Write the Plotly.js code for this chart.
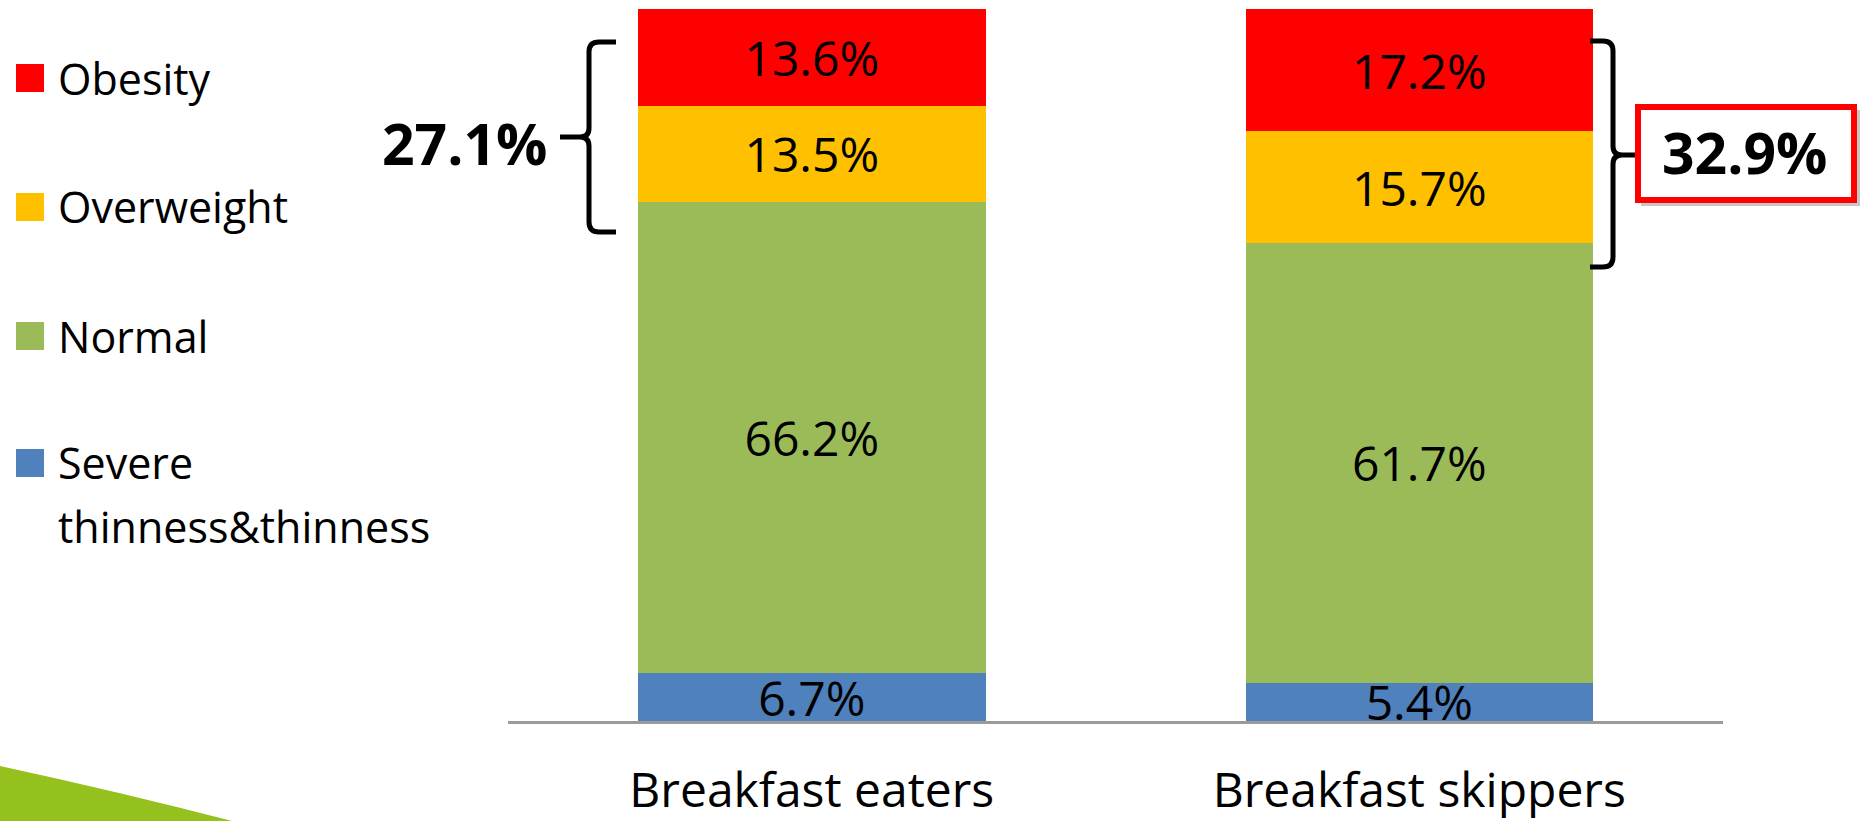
<!DOCTYPE html>
<html>
<head>
<meta charset="utf-8">
<script src="https://cdn.plot.ly/plotly-3.0.1.min.js"></script>
<style>
  html, body { margin: 0; padding: 0; background: #ffffff; overflow: hidden; }
  #chart { width: 1861px; height: 821px; }
</style>
</head>
<body>
<div id="chart"></div>
<script>
// BMI categories of breakfast eaters vs. skippers (percent of each group)
const groups = ['Breakfast eaters', 'Breakfast skippers'];
const seriesNames = ['Severe thinness&thinness', 'Normal', 'Overweight', 'Obesity'];
const thinness = [6.7, 5.4];
const normal = [66.2, 61.7];
const overweight = [13.5, 15.7];
const obesity = [13.6, 17.2];
const seriesColors = ['#4F81BD', '#9BBB59', '#FFC000', '#FF0000'];

const W = 1861, H = 821;
const M = { l: 508, r: 138, t: 9, b: 100 };
const PW = W - M.l - M.r, PH = H - M.t - M.b;
const FONT = 'Open Sans, Lato, Noto Sans, sans-serif';

// pixel position -> paper coordinates
const fx = px => (px - M.l) / PW;
const fy = py => (H - M.b - py) / PH;
const pathOf = segs => segs.map(s => s[0] + ' ' + s.slice(1).map(p => fx(p[0]).toFixed(5) + ',' + fy(p[1]).toFixed(5)).join(' ')).join(' ');

const seriesValues = [thinness, normal, overweight, obesity];
const traces = seriesValues.map((vals, i) => ({
  type: 'bar',
  name: seriesNames[i],
  x: groups,
  y: vals,
  width: 0.572,
  marker: { color: seriesColors[i], line: { width: 0 } },
  texttemplate: '%{y:.1f}%',
  textposition: 'inside',
  insidetextanchor: 'middle',
  constraintext: 'none',
  textangle: 0,
  insidetextfont: { family: FONT, size: 48, color: '#000000' },
  hoverinfo: 'skip',
  showlegend: false
}));

const shapes = [];
const annotations = [];

// legend, top entry first
const legendCenters = [78, 207, 336, 463];
const legendOrder = [3, 2, 1, 0];
legendOrder.forEach((si, k) => {
  const cy = legendCenters[k];
  shapes.push({
    type: 'rect', xref: 'paper', yref: 'paper', layer: 'above',
    x0: fx(16), x1: fx(44), y0: fy(cy - 14), y1: fy(cy + 14),
    fillcolor: seriesColors[si], line: { width: 0 }
  });
  seriesNames[si].split(' ').forEach((line, j) => {
    annotations.push({
      xref: 'paper', yref: 'paper', x: fx(56), y: fy(cy + j * 63),
      xanchor: 'left', yanchor: 'middle', showarrow: false,
      text: line, font: { family: FONT, size: 43, color: '#000000' }
    });
  });
});

// combined overweight + obesity shares
const heavy = groups.map((g, i) => (overweight[i] + obesity[i]).toFixed(1) + '%');

// brace on the left of the first bar
shapes.push({
  type: 'path', xref: 'paper', yref: 'paper', layer: 'above',
  path: pathOf([
    ['M', [616, 42]], ['L', [599, 42]], ['Q', [589, 42], [589, 52]], ['L', [589, 128]],
    ['Q', [589, 137], [580, 137]], ['L', [560, 137]],
    ['M', [580, 137]], ['Q', [589, 137], [589, 146]], ['L', [589, 222]],
    ['Q', [589, 232], [599, 232]], ['L', [616, 232]]
  ]),
  line: { color: '#000000', width: 5 }
});
annotations.push({
  xref: 'paper', yref: 'paper', x: fx(464), y: fy(143),
  xanchor: 'center', yanchor: 'middle', showarrow: false,
  text: heavy[0], font: { family: FONT, size: 57, color: '#000000', weight: 700 }
});

// brace on the right of the second bar, with the boxed total
shapes.push({
  type: 'path', xref: 'paper', yref: 'paper', layer: 'above',
  path: pathOf([
    ['M', [1590, 41]], ['L', [1603, 41]], ['Q', [1613, 41], [1613, 51]], ['L', [1613, 146]],
    ['Q', [1613, 155], [1622, 155]], ['L', [1636, 155]],
    ['M', [1622, 155]], ['Q', [1613, 155], [1613, 164]], ['L', [1613, 257]],
    ['Q', [1613, 267], [1603, 267]], ['L', [1590, 267]]
  ]),
  line: { color: '#000000', width: 5 }
});
shapes.push({
  type: 'rect', xref: 'paper', yref: 'paper', layer: 'above',
  x0: fx(1641), x1: fx(1860), y0: fy(110), y1: fy(206),
  fillcolor: 'rgba(0,0,0,0.22)', line: { width: 0 }
});
shapes.push({
  type: 'rect', xref: 'paper', yref: 'paper', layer: 'above',
  x0: fx(1638), x1: fx(1854), y0: fy(107), y1: fy(200),
  fillcolor: '#ffffff', line: { color: '#FF0000', width: 6 }
});
annotations.push({
  xref: 'paper', yref: 'paper', x: fx(1744), y: fy(152),
  xanchor: 'center', yanchor: 'middle', showarrow: false,
  text: heavy[1], font: { family: FONT, size: 57, color: '#000000', weight: 700 }
});

// green corner accent
shapes.push({
  type: 'path', xref: 'paper', yref: 'paper', layer: 'below',
  path: pathOf([['M', [0, 766]], ['Q', [120, 792], [236, 822]], ['L', [0, 822]], ['Z']]),
  fillcolor: '#95C11F', line: { width: 0 }
});

const layout = {
  width: W, height: H,
  margin: { l: M.l, r: M.r, t: M.t, b: M.b, autoexpand: false },
  paper_bgcolor: '#ffffff', plot_bgcolor: '#ffffff',
  barmode: 'stack',
  showlegend: false,
  font: { family: FONT, color: '#000000' },
  xaxis: {
    type: 'category', range: [-0.5, 1.5],
    showline: true, linecolor: '#9B9B9B', linewidth: 3,
    showgrid: false, zeroline: false, ticks: '',
    ticklabelstandoff: 25,
    tickfont: { family: FONT, size: 48, color: '#000000' },
    fixedrange: true
  },
  yaxis: {
    range: [0, 100], visible: false, showgrid: false, zeroline: false, fixedrange: true
  },
  shapes: shapes,
  annotations: annotations
};

Plotly.newPlot('chart', traces, layout, { staticPlot: true, displayModeBar: false });
</script>
</body>
</html>
